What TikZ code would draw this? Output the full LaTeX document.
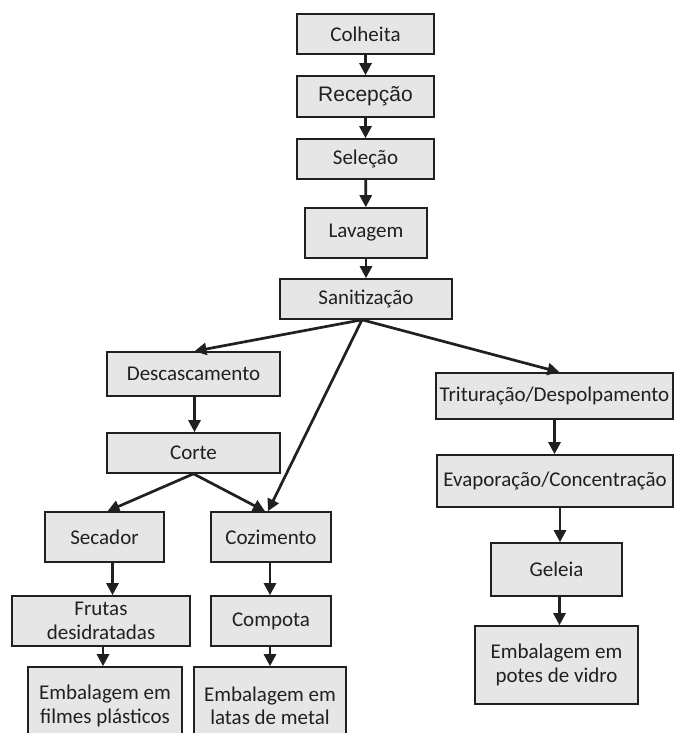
\documentclass[tikz,border=0pt]{standalone}
\usepackage{fontspec}
\setmainfont{Carlito}
\newfontfamily\arialfont{Liberation Sans}
\usetikzlibrary{arrows.meta}

\definecolor{boxgray}{RGB}{230,230,231}
\definecolor{inkgray}{RGB}{35,31,32}

\tikzset{
  stepbox/.style={draw=inkgray, line width=1.6pt, fill=boxgray, text=inkgray,
    align=center, inner sep=0pt, font=\fontsize{21}{23.5}\selectfont},
  flow/.style={draw=inkgray, line width=2.7pt, -{Triangle[length=12pt,width=12pt]}},
}

\begin{document}
\begin{tikzpicture}[x=1pt,y=-1pt]
\useasboundingbox (0,0) rectangle (674,733);

% The central column
\node[stepbox, minimum width=137, minimum height=40] (colheita) at (365.5,34) {Colheita};
\node[stepbox, minimum width=137, minimum height=41] (recepcao) at (365.5,96.5) {\arialfont Recepção};
\node[stepbox, minimum width=137, minimum height=40] (selecao) at (365.5,159) {Seleção};
\node[stepbox, minimum width=122, minimum height=50] (lavagem) at (366,233) {Lavagem};
\node[stepbox, minimum width=172, minimum height=40] (sanitizacao) at (366,299) {Sanitização};

% The left branch
\node[stepbox, minimum width=173, minimum height=44] (descascamento) at (193.5,374) {Descascamento};
\node[stepbox, minimum width=173, minimum height=40] (corte) at (193.5,453) {Corte};
\node[stepbox, minimum width=119, minimum height=50] (secador) at (104.5,537) {Secador};
\node[stepbox, minimum width=120, minimum height=50] (cozimento) at (271,537) {Cozimento};
\node[stepbox, minimum width=178, minimum height=50] (frutas) at (101,621) {Frutas\\desidratadas};
\node[stepbox, minimum width=120, minimum height=50] (compota) at (271,621) {Compota};
\node[stepbox, minimum width=154, minimum height=78] (embfilmes) at (105,706) {Embalagem em\\filmes plásticos};
\node[stepbox, minimum width=152, minimum height=78] (emblatas) at (270,706) {Embalagem em\\latas de metal};

% The right branch
\node[stepbox, minimum width=237, minimum height=46] (trituracao) at (554.5,396) {Trituração/Despolpamento};
\node[stepbox, minimum width=236, minimum height=52] (evaporacao) at (555,481) {Evaporação/Concentração};
\node[stepbox, minimum width=131, minimum height=53] (geleia) at (556.5,569.5) {Geleia};
\node[stepbox, minimum width=163, minimum height=78] (embpotes) at (556.5,665) {Embalagem em\\potes de vidro};

% Connectors
\coordinate (split) at ([xshift=-4pt]sanitizacao.south);
\coordinate (cortesplit) at (corte.south);

\draw[flow] (colheita) -- (recepcao);
\draw[flow] (recepcao) -- (selecao);
\draw[flow] (selecao) -- (lavagem);
\draw[flow] (lavagem) -- (sanitizacao);

\draw[flow] (split) -- ([xshift=1pt]descascamento.north);
\draw[flow] (split) -- ([xshift=-3pt]cozimento.north);
\draw[flow] (split) -- ([xshift=5pt]trituracao.north);

\draw[flow] ([xshift=1pt]descascamento.south) -- ([xshift=1pt]corte.north);
\draw[flow] (cortesplit) -- ([xshift=3pt]secador.north);
\draw[flow] (cortesplit) -- ([xshift=-6pt]cozimento.north);

\draw[flow] ([xshift=8pt]secador.south) -- ([xshift=8pt]secador.south |- frutas.north);
\draw[flow] ([xshift=2pt]frutas.south) -- ([xshift=2pt]frutas.south |- embfilmes.north);
\draw[flow] ([xshift=-1pt]cozimento.south) -- ([xshift=-1pt]compota.north);
\draw[flow] ([xshift=-1pt]compota.south) -- ([xshift=-1pt]compota.south |- emblatas.north);

\draw[flow] (trituracao) -- (trituracao |- evaporacao.north);
\draw[flow] ([xshift=5pt]evaporacao.south) -- ([xshift=5pt]evaporacao.south |- geleia.north);
\draw[flow] ([xshift=3pt]geleia.south) -- ([xshift=3pt]geleia.south |- embpotes.north);
\end{tikzpicture}
\end{document}
